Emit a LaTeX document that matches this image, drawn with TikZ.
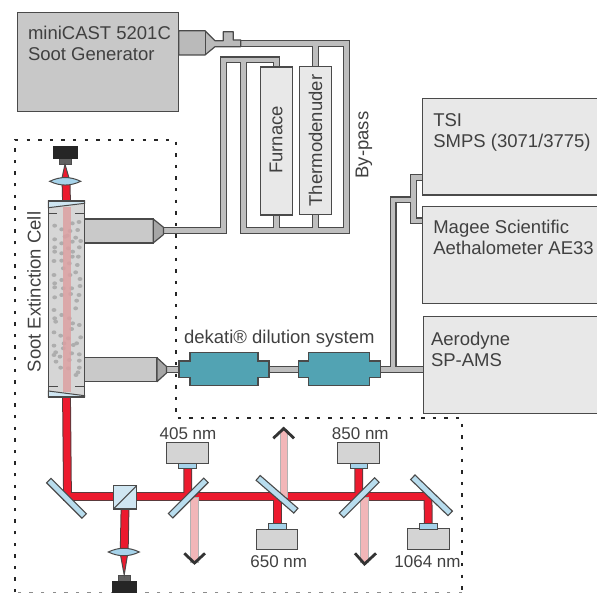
\documentclass[tikz,border=0pt]{standalone}
\usepackage{fontspec}
\setmainfont{Liberation Sans}
\pgfdeclarelayer{bg}
\pgfsetlayers{bg,main}
\definecolor{txt}{HTML}{404040}
\definecolor{edge}{HTML}{4A4A4A}
\definecolor{gengray}{HTML}{C8C8C8}
\definecolor{devgray}{HTML}{E8E8E8}
\definecolor{pipegray}{HTML}{BEBEBE}
\definecolor{laser}{HTML}{EC1A2E}
\definecolor{beamedge}{HTML}{5A3A3C}
\definecolor{pinkb}{HTML}{F2B6B8}
\definecolor{glass}{HTML}{CFE6F2}
\definecolor{mirblue}{HTML}{B8DDEE}
\definecolor{optblue}{HTML}{A6D3EA}
\definecolor{teal}{HTML}{52A3B3}
\definecolor{stripe}{HTML}{DCA0A2}
\tikzset{
  box/.style={draw=edge,line width=1.1pt,inner sep=0pt,outer sep=0pt,rectangle},
  gen/.style={box,fill=gengray},
  dev/.style={box,fill=devgray},
  src/.style={box,fill=black!17},
  fit/.style={box,fill=optblue,line width=.9pt},
  mirror/.style={box,fill=mirblue,minimum width=50pt,minimum height=6.3pt},
  big/.style={text=txt,font=\fontsize{18.5}{21.5}\selectfont,align=left,inner sep=0pt,outer sep=0pt},
  nm/.style={text=txt,font=\fontsize{17}{20}\selectfont,inner sep=0pt,outer sep=0pt},
  pipeO/.style={draw=edge,line width=7pt,line join=miter},
  pipeI/.style={draw=pipegray,line width=4.7pt,line join=miter},
  beamO/.style={draw=beamedge,line width=8.8pt,line join=miter},
  beamI/.style={draw=laser,line width=6.8pt,line join=miter},
  pinkbeam/.style={fill=pinkb,draw=black!30,line width=.5pt},
  chev/.style={draw=black!80,line width=2.8pt,line join=miter},
  dotline/.style={draw=black!85,line width=1.7pt,dash pattern=on 3.4pt off 8.2pt},
  soot/.style={fill=black!32},
  nose/.style={draw=edge,line width=1.2pt,fill=black!35,line join=round},
  dil/.style={draw=edge,line width=1.2pt,fill=teal},
  lens/.style={draw=edge,line width=1pt,fill=optblue},
  det/.style={fill=black!85,draw=black!85},
  neck/.style={fill=black!62,draw=black!70},
}
\newcommand{\lensat}[2]{\draw[lens] (#1-15.5,#2) .. controls (#1-5,#2-5) and (#1+5,#2-5) .. (#1+15.5,#2) .. controls (#1+5,#2+5) and (#1-5,#2+5) .. cycle;}
\newcommand{\dilat}[4]{% centre x, half length, half big, name
  \draw[dil] (#1-#2,361) -- (#1-#3,361) -- (#1-#3,352.5) -- (#1+#3,352.5) -- (#1+#3,361) -- (#1+#2,361) -- (#1+#2,377.5) -- (#1+#3,377.5) -- (#1+#3,385.5) -- (#1-#3,385.5) -- (#1-#3,377.5) -- (#1-#2,377.5) -- cycle;
  \coordinate (#4w) at (#1-#2,369.5);
  \coordinate (#4e) at (#1+#2,369.5);}
\newcommand{\allpipes}{
  (teeEnd) -- (cTR) -- (cBR) -- (cBL) -- (jT)
  (upTip) -- (cL) -- (cLT) -- (cF) -- (furnace.north)
  (furnace.south) -- (furnace.south |- cBR)
  (thermo.south) -- (thermo.south |- cBR)
  (thermo.north) -- (thermo.north |- cTR)
  (lowTip) -- (dilAw)
  (dilAe) -- (dilBw)
  (dilBe) -- (aeroIn)
  (jA) -- (jB) -- (jC)
  (tsiIn) -- (sT) -- (sB) -- (mageeIn)
}
\newcommand{\allbeams}{
  (cell.south) -- (m1) -- (m5) -- (fitD.north)
  (fitA.south) -- (fitA.south |- m1)
  (fitB.north) -- (fitB.north |- m1)
  (fitC.south) -- (fitC.south |- m1)
  (cube.south) -- (lowLens)
  (topLens) -- (cell.north)
}
\begin{document}
\begin{tikzpicture}[x=1pt,y=-1pt]
\useasboundingbox (0,0) rectangle (597,593);

% dotted enclosure
\draw[dotline] (15,592.4) -- (15,140) -- (175.7,140) -- (175.7,418.3) -- (462,418.3) -- (462,592.4);
\draw[dotline,draw=black!45] (462,592.4) -- (15,592.4);

% coordinates of the pipe network
\coordinate (teeEnd) at (240,43.5);
\coordinate (cTR) at (346.5,43.5);
\coordinate (cBR) at (346.5,230.7);
\coordinate (cBL) at (243.7,230.7);
\coordinate (jT) at (243.7,60);
\coordinate (upTip) at (163,230.7);
\coordinate (cL) at (223.5,230.7);
\coordinate (cLT) at (223.5,60);
\coordinate (cF) at (276.5,60);
\coordinate (lowTip) at (166,369.5);
\coordinate (aeroIn) at (424,369.5);
\coordinate (jA) at (393,369.5);
\coordinate (jB) at (393,200);
\coordinate (jC) at (413.7,200);
\coordinate (tsiIn) at (423,177.5);
\coordinate (sT) at (413.7,177.5);
\coordinate (sB) at (413.7,221);
\coordinate (mageeIn) at (423,221);

% instruments
\node[gen,minimum width=161.4pt,minimum height=99pt] (generator) at (98,62.2) {};
\node[big,anchor=west] (generatorText) at (28,43.5) {miniCAST 5201C\\Soot Generator};
\draw[nose,fill=black!27] (178.7,30.7) -- (205,30.7) -- (215,40.7) -- (223.3,40.7) -- (223.3,31.7) -- (233.3,31.7) -- (233.3,40) -- (240.7,40) -- (240.7,46.7) -- (215,46.7) -- (205,55) -- (178.7,55) -- cycle;
\draw[edge,line width=1pt] (205,30.7) -- (205,55);

\node[dev,minimum width=32.7pt,minimum height=148pt] (furnace) at (276.5,141) {};
\node[big,rotate=90] (furnaceText) at (276,140) {Furnace};
\node[dev,minimum width=32.7pt,minimum height=148.5pt] (thermo) at (315.5,140.7) {};
\node[big,rotate=90] (thermoText) at (315.5,140.5) {Thermodenuder};
\node[big,rotate=90] (bypassText) at (364,145) {By-pass};

\node[dev,minimum width=180pt,minimum height=96.7pt] (tsi) at (512.3,146.7) {};
\node[big,anchor=west] (tsiText) at (433.3,132.5) {TSI\\SMPS (3071/3775)};
\node[dev,minimum width=180pt,minimum height=97.3pt] (magee) at (512.3,255.3) {};
\node[big,anchor=west] (mageeText) at (433.3,237.5) {Magee Scientific\\Aethalometer AE33};
\node[dev,minimum width=180pt,minimum height=96.6pt] (aero) at (513.3,365) {};
\node[big,anchor=west] (aeroText) at (431,349.5) {Aerodyne\\SP-AMS};

% dilution system
\dilat{224}{45}{34}{dilA}
\dilat{339.2}{41}{30.5}{dilB}
\node[big,anchor=west] (dilText) at (184,338.5) {dekati® dilution system};

% extinction cell
\node[big,rotate=90] (cellText) at (34,292) {Soot Extinction Cell};
\node[box,fill=black!16,minimum width=36.4pt,minimum height=196pt] (cell) at (66.5,299) {};
\foreach \a/\b in {44/77,97/70,117/66,65/88,113/90,90/93,82/107,107/113,44/118,122/123,75/110,65/130,97/125,118/142,44/142,44/155,98/155,65/160,85/145,115/170,42/183,97/170,65/182,112/195,88/190,70/205,42/225,107/217,90/225,120/237,65/240,95/265,44/250,44/262,120/258,70/265,117/285,44/292,65/285,92/282}
  \fill[soot] ({40+\a/3},{200+\b/3}) ellipse [x radius=2.4pt,y radius=2pt];
\foreach \a/\b in {110/17,42/45,107/40,65/60,44/70,47/80,88/70,98/85,118/90,42/112,95/102,62/122,122/127,110/145,100/150,42/152,72/145,85/130,70/160,47/172,42/180,118/178,95/175,60/185,48/200,118/197,88/195,62/218,118/218,108/240,85/220,114/232}
  \fill[soot] ({40+\a/3},{295+\b/3}) ellipse [x radius=2.4pt,y radius=2pt];
\fill[stripe,fill opacity=.85] (62.5,207) rectangle (70.5,392);
\draw[edge,line width=1pt] (48.3,213.3) -- (56.7,213.3) (75,213.3) -- (84.7,213.3) (48.3,387) -- (58,387) (75,387) -- (84.7,387);
\draw[box,fill=glass,line width=1pt] (48.3,201) -- (84.7,201) -- (84.7,203.3) -- (48.3,207.7) -- cycle;
\draw[box,fill=glass,line width=1pt] (48.3,391) -- (84.7,395.7) -- (84.7,397) -- (48.3,397) -- cycle;
\draw[edge,line width=1.1pt] (cell.north west) rectangle (cell.south east);

% nozzles
\node[box,fill=black!21,minimum width=69pt,minimum height=24pt] (upNozzle) at (118.7,231) {};
\draw[nose] (upNozzle.north east) -- (163.5,227.3) -- (163.5,234.5) -- (upNozzle.south east) -- cycle;
\node[box,line width=1.5pt,fill=black!21,minimum width=72.5pt,minimum height=24pt] (lowNozzle) at (120.7,369.7) {};
\draw[nose] (lowNozzle.north east) -- (166.5,366.5) -- (166.5,373) -- (lowNozzle.south east) -- cycle;

% optics
\coordinate (m1) at (67.5,496.5);
\coordinate (m5) at (428,496.5);
\node[src,minimum width=42pt,minimum height=20.6pt] (srcA) at (187.7,453) {};
\node[fit,minimum width=17.7pt,minimum height=5.4pt] (fitA) at (187.7,466) {};
\node[nm] (labA) at (188,433.5) {405 nm};
\node[src,minimum width=41.4pt,minimum height=20.7pt] (srcB) at (277,539.4) {};
\node[fit,minimum width=17.7pt,minimum height=5.4pt] (fitB) at (277.5,526.3) {};
\node[nm] (labB) at (278.7,561.7) {650 nm};
\node[src,minimum width=41.7pt,minimum height=20.6pt] (srcC) at (358.2,453) {};
\node[fit,minimum width=17.7pt,minimum height=5.4pt] (fitC) at (358.8,466) {};
\node[nm] (labC) at (360.3,433.5) {850 nm};
\node[src,minimum width=41.7pt,minimum height=21pt] (srcD) at (428.2,539.2) {};
\node[fit,minimum width=18pt,minimum height=5.4pt] (fitD) at (428.3,526.3) {};
\node[nm] (labD) at (427.5,561.7) {1064 nm};

\node[mirror,rotate=-45] (mirA) at (66.5,498.3) {};
\node[mirror,rotate=45] (mirB) at (188.3,498) {};
\node[mirror,rotate=-41] (mirC) at (277,494.3) {};
\node[mirror,rotate=45] (mirD) at (359.2,497.7) {};
\node[mirror,minimum width=52pt,rotate=-44] (mirE) at (431.5,495.3) {};

\node[box,fill=glass,minimum width=23.4pt,minimum height=23.4pt] (cube) at (125,497.3) {};
\draw[edge,line width=1.1pt] (cube.south west) -- (cube.north east);

% lenses and detectors
\coordinate (topLens) at (66,181.3);
\coordinate (lowLens) at (124.2,552);
\node[neck,inner sep=0pt,minimum width=11.7pt,minimum height=5.7pt] (topNeck) at (65,161.2) {};
\node[det,inner sep=0pt,minimum width=24pt,minimum height=12.3pt] (topDet) at (65.3,152.2) {};
\draw[lens,fill=laser] (topNeck.south) -- (62,178) -- (69,178) -- cycle;
\lensat{65.2}{181.3}
\node[neck,inner sep=0pt,minimum width=11.7pt,minimum height=6pt] (lowNeck) at (124.2,578) {};
\node[det,inner sep=0pt,minimum width=24.3pt,minimum height=14pt] (lowDet) at (123.9,588) {};
\draw[lens,fill=laser] (lowNeck.north) -- (120.5,555) -- (127.5,555) -- cycle;
\lensat{123.8}{552}

% outgoing beam arrows
\coordinate (pA) at (194.5,563);
\coordinate (pB) at (283.7,428.5);
\coordinate (pC) at (364.5,564);

\begin{pgfonlayer}{bg}
  \draw[pipeO] \allpipes;
  \draw[pipeI] \allpipes;
  \draw[beamO] \allbeams;
  \draw[beamI] \allbeams;
  \draw[pinkbeam] (190.7,497) rectangle (198.3,562);
  \draw[pinkbeam] (280,497) rectangle (287.4,430);
  \draw[pinkbeam] (360.3,497) rectangle (368.5,562);
  \draw[chev] (184.3,553.3) -- (pA) -- (205,553.3);
  \draw[chev] (273.3,438.3) -- (pB) -- (294,438.3);
  \draw[chev] (355,553.3) -- (pC) -- (376,553.3);
\end{pgfonlayer}
\end{tikzpicture}
\end{document}
